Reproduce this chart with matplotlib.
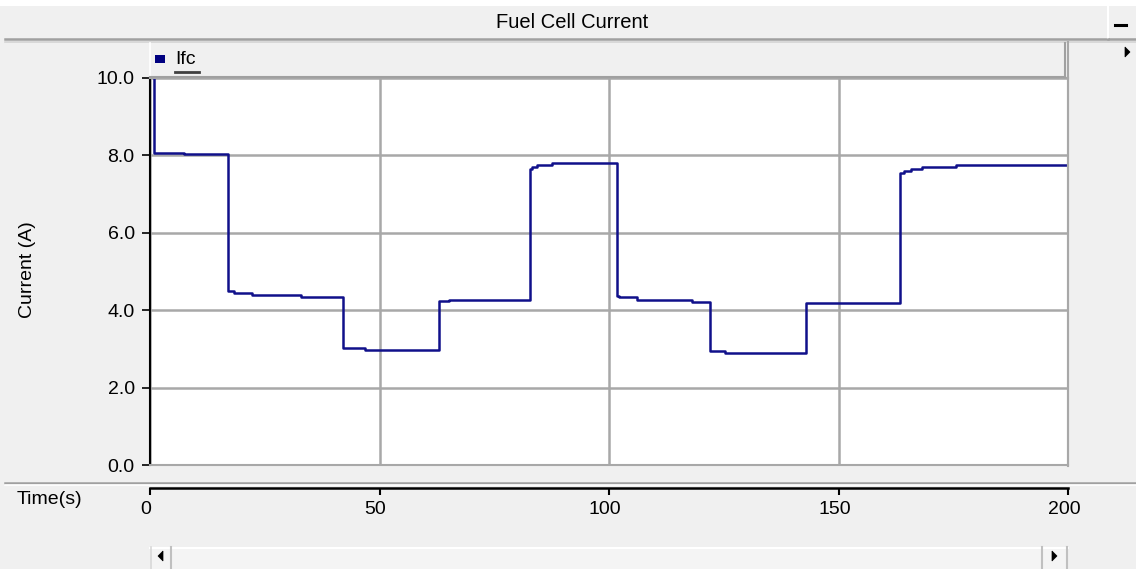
"""Fuel cell current trace, drawn in the style of a PSCAD graph frame."""
import matplotlib
matplotlib.use("Agg")
import matplotlib.pyplot as plt  # noqa: E402
from matplotlib.lines import Line2D  # noqa: E402
from matplotlib.patches import Rectangle, Polygon  # noqa: E402
from matplotlib.transforms import ScaledTranslation  # noqa: E402

# step trace of Ifc (value holds from each time until the next)
time_s = [0, 0.9, 7.3, 17.1, 18.4, 22.3, 33.0, 42.0, 46.8, 62.9, 65.2,
          82.8, 83.2, 84.4, 87.5, 101.7, 102.2, 106.0, 118.0, 121.9, 125.3,
          142.9, 163.5, 164.3, 165.7, 168.3, 175.6, 200]
ifc = [10.6, 8.07, 8.04, 4.50, 4.44, 4.38, 4.33, 3.02, 2.96, 4.23, 4.27,
       7.65, 7.69, 7.74, 7.80, 4.37, 4.33, 4.27, 4.22, 2.95, 2.90,
       4.18, 7.54, 7.59, 7.64, 7.69, 7.74, 7.74]
y_ticks = [0, 2, 4, 6, 8, 10]
x_ticks = [0, 50, 100, 150, 200]

W, H = 1136, 569
BG = "#f0f0f0"
TRACE = "#10108a"
GRID = "#a8a8a8"
FONT = "Liberation Sans"
FS = 14

fig = plt.figure(figsize=(W / 100, H / 100), dpi=100, facecolor=BG)


def box(x, y, w, h):
    # pixel box (top-left origin) -> figure fraction rect
    return [x / W, 1 - (y + h) / H, w / W, h / H]


def fx(x):
    return x / W


def fy(y):
    return 1 - y / H


def hline(y, x0, x1, color, lw=1.5):
    fig.add_artist(Line2D([fx(x0), fx(x1)], [fy(y), fy(y)], color=color,
                          lw=lw, transform=fig.transFigure))


def vline(x, y0, y1, color, lw=1.5):
    fig.add_artist(Line2D([fx(x), fx(x)], [fy(y0), fy(y1)], color=color,
                          lw=lw, transform=fig.transFigure))


def rect(x, y, w, h, fc, ec="none", lw=1.0):
    fig.add_artist(Rectangle((fx(x), fy(y + h)), w / W, h / H, fc=fc, ec=ec,
                             lw=lw, transform=fig.transFigure))


def tri(pts, color="black"):
    fig.add_artist(Polygon([(fx(a), fy(b)) for a, b in pts], closed=True,
                           fc=color, ec=color, lw=0.5,
                           transform=fig.transFigure))


# ---- title bar ----
rect(0, 0, W, 6, "white")
fig.text(fx(572), fy(22), "Fuel Cell Current", ha="center", va="center",
         fontsize=14.5, family=FONT)
hline(38.5, 5, 1108, "#a0a0a0", lw=1.8)
hline(41.5, 5, W, "#d4d4d4", lw=1.2)
vline(1108, 7, 38, "white", lw=1.5)
hline(38.5, 1108, W, "#a0a0a0", lw=1.8)
hline(25, 1115, 1126, "black", lw=2.2)
tri([(1125, 47), (1125, 57), (1130, 52)])

# ---- legend strip ----
rect(150, 43, 915, 34, BG)
vline(149.5, 43, 77, "white", lw=1.2)
vline(1065, 43, 77, "#a0a0a0", lw=1.5)
hline(77, 150, 1065, "#a0a0a0", lw=1.5)
rect(155, 55, 10, 8, "#000080")
fig.text(fx(175), fy(60), "Ifc", ha="left", va="center", fontsize=FS,
         family=FONT)
hline(72, 175, 199, "#404040", lw=2.0)
vline(1067.5, 42, 466, "#a8a8a8", lw=1.5)

# ---- main plot ----
ax = fig.add_axes(box(150, 78, 918, 387), facecolor="white")
ax.step(time_s, ifc, where="post", color=TRACE, lw=1.8)
ax.set_xlim(0, 200)
ax.set_ylim(0, 10)
ax.set_yticks(y_ticks)
ax.set_yticklabels([f"{v:.1f}" for v in y_ticks], fontsize=FS, family=FONT)
ax.set_xticks(x_ticks)
ax.tick_params(axis="x", length=0, labelbottom=False)
ax.tick_params(axis="y", length=6, width=1.2, pad=5, color="black")
ax.grid(True, color=GRID, lw=1.8)
ax.set_axisbelow(True)
for side in ("top", "right", "bottom"):
    ax.spines[side].set_color(GRID)
    ax.spines[side].set_linewidth(1.5)
ax.spines["left"].set_color("black")
ax.spines["left"].set_linewidth(1.5)
fig.text(fx(27), fy(270), "Current (A)", rotation=90, ha="center",
         va="center", fontsize=FS, family=FONT)

# ---- time axis ----
hline(482.5, 5, W, "#a0a0a0", lw=1.8)
hline(485, 5, W, "white", lw=1.2)
tax = fig.add_axes(box(150, 487.5, 918, 0))
tax.set_facecolor("none")
tax.set_xlim(0, 200)
tax.set_xticks(x_ticks)
tax.set_xticklabels([str(v) for v in x_ticks], fontsize=FS, family=FONT)
tax.set_yticks([])
for side in ("top", "left", "right"):
    tax.spines[side].set_visible(False)
tax.spines["bottom"].set_linewidth(1.8)
tax.tick_params(axis="x", direction="out", length=5, width=1.5, pad=5)
shift = ScaledTranslation(-4 / 100, 0, fig.dpi_scale_trans)
for lbl in tax.get_xticklabels():
    lbl.set_transform(lbl.get_transform() + shift)
fig.text(fx(49), fy(500), "Time(s)", ha="center", va="center", fontsize=FS,
         family=FONT)

# ---- scroll bar ----
rect(150, 547, 918, 22, "#f4f4f4")
hline(547.5, 150, 1068, "white", lw=1.5)
vline(150.5, 547, H, "#d8d8d8", lw=1.2)
vline(171, 547, H, "#c0c0c0", lw=1.5)
vline(1042, 547, H, "#c0c0c0", lw=1.5)
vline(1067, 547, H, "#c0c0c0", lw=1.5)
tri([(163, 551), (163, 561), (158, 556)])
tri([(1052, 551), (1052, 561), (1057, 556)])

fig.savefig("out.png", dpi=100, facecolor=BG)
